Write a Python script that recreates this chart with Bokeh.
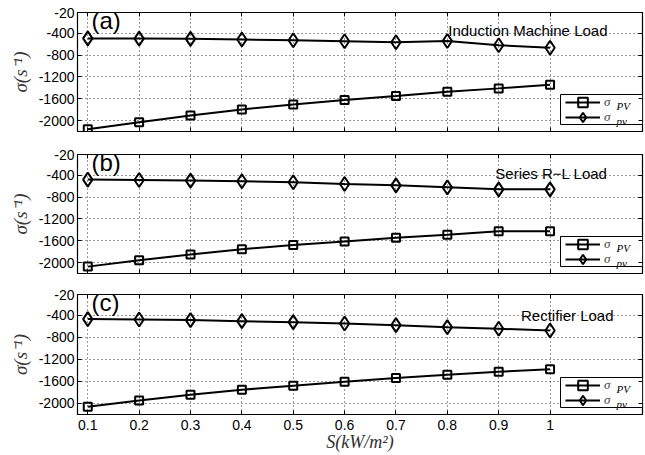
from bokeh.plotting import figure
from bokeh.layouts import column
from bokeh.models import Range1d, FixedTicker, LinearAxis, Legend, LegendItem, Label
from bokeh.embed import file_html
from bokeh.resources import INLINE

# ---------------- data ----------------
s_values = [0.1, 0.2, 0.3, 0.4, 0.5, 0.6, 0.7, 0.8, 0.9, 1.0]
x_tick_labels = ["0.1", "0.2", "0.3", "0.4", "0.5", "0.6", "0.7", "0.8", "0.9", "1"]
y_ticks = [-2000, -1600, -1200, -800, -400, -20]
y_tick_labels = ["-2000", "-1600", "-1200", "-800", "-400", "-20"]

sigma_PV_induction = [-2160, -2030, -1905, -1795, -1705, -1625, -1550, -1470, -1410, -1345]
sigma_pv_induction = [-495, -498, -503, -515, -528, -546, -566, -541, -621, -665]
sigma_PV_series = [-2074, -1957, -1852, -1754, -1680, -1612, -1545, -1489, -1428, -1428]
sigma_pv_series = [-480, -486, -498, -511, -529, -560, -585, -622, -658, -658]
sigma_PV_rectifier = [-2061, -1945, -1841, -1750, -1677, -1606, -1539, -1478, -1423, -1380]
sigma_pv_rectifier = [-467, -473, -485, -504, -522, -546, -577, -613, -643, -674]

panel_tags = ["(a)", "(b)", "(c)"]
load_names = ["Induction Machine Load", "Series R\u2212L Load", "Rectifier Load"]
legend_sub = ["PV", "pv"]
y_label = "\u03c3(s\u207b\u00b9)"
x_label = "S(kW/m\u00b2)"

X_LIM = (0.08, 1.18)
Y_LIM = (-2200, -20)
FRAME_W = 565
SANS = "Liberation Sans"
SERIF = "Liberation Serif"


def style_axis(ax, ticks, labels, show):
    ax.ticker = FixedTicker(ticks=ticks)
    ax.major_label_overrides = {t: l for t, l in zip(ticks, labels)}
    ax.major_tick_in = 4
    ax.major_tick_out = 0
    ax.minor_tick_line_color = None
    ax.major_tick_line_color = "black"
    ax.major_tick_line_width = 1
    ax.axis_line_color = None
    ax.major_label_text_font = SANS
    if show:
        ax.major_label_text_color = "black"
        ax.major_label_text_font_size = "14px"
        ax.major_label_standoff = 3
    else:
        ax.major_label_text_color = None
        ax.major_label_text_font_size = "0px"
        ax.major_label_standoff = 0


def px_to_x(px):
    return X_LIM[0] + px / FRAME_W * (X_LIM[1] - X_LIM[0])


def px_to_y(px, frame_h):
    return Y_LIM[0] + px / frame_h * (Y_LIM[1] - Y_LIM[0])


def make_panel(idx, PV, pv, frame_h, top, bottom, last, load_dx, load_dy):
    p = figure(frame_width=FRAME_W, frame_height=frame_h, output_backend="svg",
               toolbar_location=None,
               x_range=Range1d(*X_LIM), y_range=Range1d(*Y_LIM),
               min_border_left=77, min_border_right=3,
               min_border_top=top, min_border_bottom=bottom)
    p.outline_line_color = "black"
    p.outline_line_width = 1.2

    bottom_ax = p.xaxis[0]
    left_ax = p.yaxis[0]
    style_axis(bottom_ax, s_values, x_tick_labels, last)
    style_axis(left_ax, y_ticks, y_tick_labels, True)
    top_ax = LinearAxis()
    style_axis(top_ax, s_values, x_tick_labels, False)
    right_ax = LinearAxis()
    style_axis(right_ax, y_ticks, y_tick_labels, False)
    p.add_layout(top_ax, "above")
    p.add_layout(right_ax, "right")

    left_ax.axis_label = y_label
    left_ax.axis_label_text_font = SERIF
    left_ax.axis_label_text_font_style = "italic"
    left_ax.axis_label_text_font_size = "19px"
    left_ax.axis_label_text_color = "#383838"
    left_ax.axis_label_standoff = 5
    if last:
        bottom_ax.major_label_standoff = 5
        bottom_ax.axis_label = x_label
        bottom_ax.axis_label_text_font = SERIF
        bottom_ax.axis_label_text_font_style = "italic"
        bottom_ax.axis_label_text_font_size = "18px"
        bottom_ax.axis_label_text_color = "#303030"
        bottom_ax.axis_label_standoff = -1

    p.xgrid.ticker = FixedTicker(ticks=s_values)
    p.ygrid.ticker = FixedTicker(ticks=y_ticks)
    p.grid.grid_line_color = "#333333"
    p.grid.grid_line_dash = "1 3"
    p.grid.grid_line_width = 1

    # legend frame (white box hiding the grid), placed from frame pixel offsets
    p.quad(left=[px_to_x(483)], right=[px_to_x(FRAME_W)],
           bottom=[px_to_y(7, frame_h)], top=[px_to_y(37, frame_h)],
           fill_color="white", fill_alpha=1, line_color="black", line_width=1)

    l1 = p.line(s_values, PV, line_color="black", line_width=2)
    m1 = p.scatter(s_values, PV, marker="square", size=8, line_color="black",
                   line_width=2, fill_alpha=0)
    l2 = p.line(s_values, pv, line_color="black", line_width=2)
    m2 = p.scatter(s_values, pv, marker="diamond", size=14, line_color="black",
                   line_width=2, fill_alpha=0)

    for item_renderers, loc_y in zip([[l1, m1], [l2, m2]], [17, 2]):
        p.add_layout(Legend(items=[LegendItem(label="\u03c3", renderers=item_renderers)],
                            location=(488, loc_y), orientation="vertical", padding=0,
                            spacing=0, margin=0, glyph_width=35, glyph_height=24,
                            label_width=30, label_height=24, label_standoff=4,
                            label_text_font=SERIF, label_text_font_style="italic",
                            label_text_font_size="13px", border_line_color=None,
                            background_fill_alpha=0))

    for sub, yy in zip(legend_sub, [26, 11]):
        p.add_layout(Label(x=539, y=yy, x_units="screen", y_units="screen", text=sub,
                           text_font=SERIF, text_font_style="italic",
                           text_font_size="11px", text_baseline="middle",
                           text_color="black"))

    p.add_layout(Label(x=14, y=frame_h - 8, x_units="screen",
                       y_units="screen", text=panel_tags[idx], text_font=SANS,
                       text_font_size="24px", text_baseline="alphabetic",
                       text_color="black"))
    p.add_layout(Label(x=load_dx, y=frame_h - load_dy,
                       x_units="screen", y_units="screen", text=load_names[idx],
                       text_font=SANS, text_font_size="15px", text_align="right",
                       text_baseline="middle", text_color="black"))
    return p


pa = make_panel(0, sigma_PV_induction, sigma_pv_induction, 119, 12, 12, False, 530, 18)
pb = make_panel(1, sigma_PV_series, sigma_pv_series, 119, 11, 10, False, 530, 19)
pc = make_panel(2, sigma_PV_rectifier, sigma_pv_rectifier, 120, 11, 39, True, 536, 21)

layout = column(pa, pb, pc, spacing=0)
open("out.html", "w").write(file_html(layout, INLINE))
